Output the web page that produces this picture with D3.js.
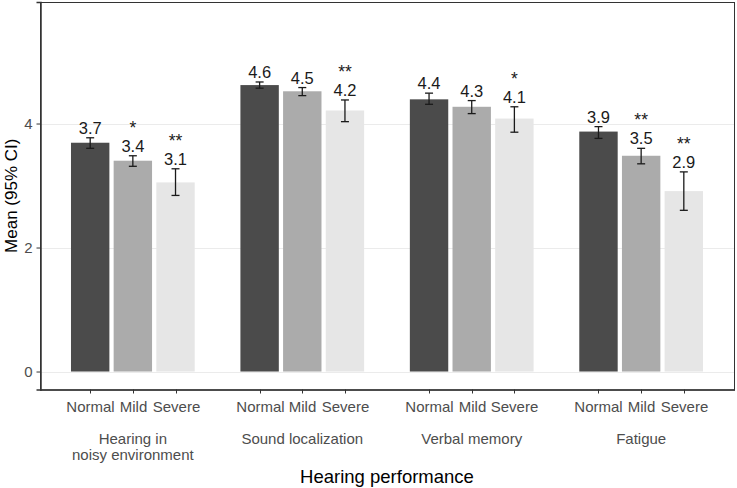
<!DOCTYPE html>
<html>
<head>
<meta charset="utf-8">
<script src="https://cdn.jsdelivr.net/npm/d3@7"></script>
<style>
  html, body { margin: 0; padding: 0; background: #fff; }
  svg { display: block; font-family: "Liberation Sans", Arial, sans-serif; }
</style>
</head>
<body>
<svg id="chart" width="737" height="488"></svg>
<script>
// ---- data ----
const groups = ["Hearing in\nnoisy environment", "Sound localization", "Verbal memory", "Fatigue"];
const levels = ["Normal", "Mild", "Severe"];
const meanNormal = [3.69, 4.62, 4.39, 3.87];
const meanMild   = [3.40, 4.52, 4.27, 3.48];
const meanSevere = [3.05, 4.21, 4.08, 2.91];
const loNormal = [3.60, 4.57, 4.31, 3.76];
const hiNormal = [3.77, 4.67, 4.49, 3.95];
const loMild   = [3.31, 4.45, 4.16, 3.35];
const hiMild   = [3.48, 4.58, 4.37, 3.60];
const loSevere = [2.84, 4.03, 3.86, 2.60];
const hiSevere = [3.27, 4.38, 4.27, 3.22];
const labNormal = ["3.7", "4.6", "4.4", "3.9"];
const labMild   = ["3.4", "4.5", "4.3", "3.5"];
const labSevere = ["3.1", "4.2", "4.1", "2.9"];
const starNormal = ["", "", "", ""];
const starMild   = ["*", "", "", "**"];
const starSevere = ["**", "**", "*", "**"];
const yTicks = [0, 2, 4];
const fills = ["#4b4b4b", "#ababab", "#e6e6e6"];

const series = [
  {mean: meanNormal, lo: loNormal, hi: hiNormal, lab: labNormal, star: starNormal},
  {mean: meanMild, lo: loMild, hi: hiMild, lab: labMild, star: starMild},
  {mean: meanSevere, lo: loSevere, hi: hiSevere, lab: labSevere, star: starSevere}
];
const rows = [];
groups.forEach((g, gi) => levels.forEach((lv, li) => {
  const s = series[li];
  rows.push({g, l: lv, li, mean: s.mean[gi], lo: s.lo[gi], hi: s.hi[gi], lab: s.lab[gi], star: s.star[gi]});
}));

// ---- layout ----
const L = 40, R = 734, T = 2, B = 389.5;
const svg = d3.select("#chart");
const y = d3.scaleLinear().domain([-0.29, 5.96]).range([B, T]);
const xg = d3.scalePoint().domain(groups).range([L, R]).padding(0.548);
const xl = d3.scaleBand().domain(levels).range([-64, 64]).paddingInner(0.1).paddingOuter(0.05);
const cxOf = d => xg(d.g) + xl(d.l) + xl.bandwidth() / 2;

// gridlines
svg.append("g").selectAll("line").data(yTicks).join("line")
  .attr("x1", L).attr("x2", R)
  .attr("y1", d => Math.round(y(d)) + 0.5).attr("y2", d => Math.round(y(d)) + 0.5)
  .attr("stroke", "#ebebeb").attr("stroke-width", 1.2);

// bars
svg.append("g").selectAll("rect").data(rows).join("rect")
  .attr("x", d => xg(d.g) + xl(d.l))
  .attr("width", xl.bandwidth())
  .attr("y", d => y(d.mean))
  .attr("height", d => y(0) - y(d.mean))
  .attr("fill", d => fills[d.li]);

// error bars
const eb = svg.append("g").attr("stroke", "#1a1a1a").attr("stroke-width", 1.3).attr("fill", "none");
rows.forEach(d => {
  const cx = cxOf(d);
  eb.append("line").attr("x1", cx).attr("x2", cx).attr("y1", y(d.lo)).attr("y2", y(d.hi));
  eb.append("line").attr("x1", cx - 4).attr("x2", cx + 4).attr("y1", y(d.lo)).attr("y2", y(d.lo));
  eb.append("line").attr("x1", cx - 4).attr("x2", cx + 4).attr("y1", y(d.hi)).attr("y2", y(d.hi));
});

// value labels
svg.append("g").selectAll("text").data(rows).join("text")
  .attr("x", cxOf)
  .attr("y", d => y(d.hi) - 4)
  .attr("text-anchor", "middle")
  .attr("font-size", 16.5)
  .attr("fill", "#1a1a1a")
  .text(d => d.lab);

// stars
svg.append("g").selectAll("text").data(rows.filter(d => d.star)).join("text")
  .attr("x", cxOf)
  .attr("y", d => y(d.hi) - 4 - 18)
  .attr("text-anchor", "middle")
  .attr("font-size", 17.5)
  .attr("fill", "#1a1a1a")
  .text(d => d.star);

// panel border
svg.append("rect").attr("x", L + 0.5).attr("y", T + 0.5)
  .attr("width", R - L).attr("height", B - T)
  .attr("fill", "none").attr("stroke", "#333").attr("stroke-width", 1);

// y axis
const yAxis = svg.append("g").attr("transform", `translate(${L + 0.5},0)`)
  .call(d3.axisLeft(y).tickValues(yTicks).tickSize(4).tickPadding(4).tickFormat(d3.format("d")));
yAxis.select(".domain").attr("stroke", "#333").attr("stroke-width", 1.5);
yAxis.selectAll(".tick line").attr("stroke", "#333");
yAxis.selectAll(".tick text").attr("font-size", 15).attr("fill", "#4d4d4d")
  .attr("font-family", "Liberation Sans, Arial, sans-serif");

// x axis (level ticks)
const xt = svg.append("g");
rows.forEach(d => {
  const cx = Math.round(cxOf(d)) + 0.5;
  xt.append("line").attr("x1", cx).attr("x2", cx).attr("y1", B).attr("y2", B + 4).attr("stroke", "#333");
  xt.append("text").attr("x", cx).attr("y", 412).attr("text-anchor", "middle")
    .attr("font-size", 15).attr("fill", "#4d4d4d").text(d.l);
});
svg.append("line").attr("x1", L).attr("x2", R + 1).attr("y1", B + 0.5).attr("y2", B + 0.5)
  .attr("stroke", "#333").attr("stroke-width", 1.5);

// group labels
svg.append("g").selectAll("text").data(groups).join("text")
  .attr("y", 444)
  .attr("text-anchor", "middle")
  .attr("font-size", 15).attr("fill", "#4d4d4d")
  .each(function(d) {
    const lines = d.split("\n");
    d3.select(this).selectAll("tspan").data(lines).join("tspan")
      .attr("x", xg(d)).attr("dy", (t, i) => i === 0 ? 0 : 16).text(t => t);
  });

// axis titles
svg.append("text").attr("x", (L + R) / 2).attr("y", 483).attr("text-anchor", "middle")
  .attr("font-size", 18.5).attr("fill", "#000").text("Hearing performance");
svg.append("text").attr("transform", `translate(17,${(T + B) / 2}) rotate(-90)`)
  .attr("text-anchor", "middle").attr("font-size", 17).attr("fill", "#000").text("Mean (95% CI)");
</script>
</body>
</html>
